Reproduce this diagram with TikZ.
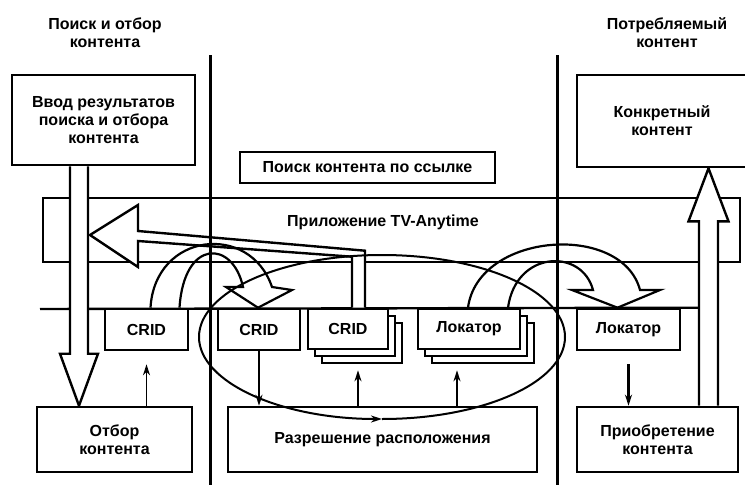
\documentclass[tikz,border=0pt]{standalone}
\usepackage{fontspec}
\setmainfont{Liberation Sans}
\usetikzlibrary{
	arrows.meta,
	backgrounds,
	calc,
	positioning,
	shadows,
}
\tikzset{block/.style={
		% The shape:
		rectangle,
		% The border:
		line width=2.6pt,draw=black,
		% white inside, so that lines behind are hidden
		fill=white,
		% make sure text is set the same in all boxes
		font=\bfseries\fontsize{16}{18}\selectfont,align=center,
		inner sep=0pt,
}}
\tikzset{stackblock/.style={
		block,
		% two copies behind the box
		double copy shadow={shadow xshift=7pt,shadow yshift=-7pt},
}}
\tikzset{caption/.style={
		font=\bfseries\fontsize{16}{18}\selectfont,align=center,
		inner sep=0pt,
}}
\tikzset{hollow/.style={
		% big open arrows
		line width=2.4pt,draw=black,fill=white,line join=miter,
}}
\tikzset{bent/.style={
		% curved open arrows, not filled
		line width=2.2pt,draw=black,line join=miter,
}}

\begin{document}
\begin{tikzpicture}[x=1pt,y=-1pt,>={Stealth[length=11pt,width=7pt]}]
	\useasboundingbox (0,0) rectangle (745,485);
	% column headings
	\node[caption] (search) at (105,33) {Поиск и отбор\\контента};
	\node[caption] (consumed) at (667,33) {Потребляемый\\контент};
	% boxes
	\node[block,minimum width=183pt,minimum height=90pt] (vvod) at (103.5,120) {Ввод результатов\\поиска и отбора\\контента};
	\node[block,minimum width=170pt,minimum height=92pt] (konkr) at (662,121) {Конкретный\\контент};
	\node[block,minimum width=255pt,minimum height=31pt] (poisk) at (367.5,167.5) {Поиск контента по ссылке};
	\node[block,minimum width=83pt,minimum height=41pt] (crid1) at (146.5,329.5) {CRID};
	\node[block,minimum width=82pt,minimum height=41pt] (crid2) at (259,329.5) {CRID};
	\node[stackblock,minimum width=80pt,minimum height=40pt] (crid3) at (348,329) {CRID};
	\node[stackblock,minimum width=102pt,minimum height=40pt] (lok1) at (469,329) {Локатор};
	\node[block,minimum width=103pt,minimum height=41pt] (lok2) at (628.5,329.5) {Локатор};
	\node[block,minimum width=155pt,minimum height=65pt] (otbor) at (114.5,439.5) {Отбор\\контента};
	\node[block,minimum width=309pt,minimum height=65pt] (razr) at (382.5,439.5) {Разрешение расположения};
	\node[block,minimum width=161pt,minimum height=65pt] (priobr) at (657.5,439.5) {Приобретение\\контента};
	% band, base line and the open arrows go behind the boxes
	\begin{scope}[on background layer]
		\node[draw,line width=2.4pt,minimum width=697pt,minimum height=64pt,inner sep=0pt] (app) at (391.5,230) {};
		\node[caption] (applabel) at (383,222) {Приложение TV-Anytime};
		\path (vvod.south) ++(-24.5,0) coordinate (seltop);
		\coordinate (seltip) at (seltop |- otbor.north);
		\path (priobr.north) ++(51,0) coordinate (gettail);
		\coordinate (gettip) at (gettail |- konkr.south);
		\path (crid3.north) ++(10,0) coordinate (reftail);
		\coordinate (reftip) at (90,235);
		\draw[line width=2.4pt] (40,309) -- ($(gettail |- crid1.north)+(-9.5,0)$);
		\draw[hollow] ($(seltop)+(-9,0)$) -- ($(seltip)+(-9,-52)$) -- ($(seltip)+(-19,-52)$) -- (seltip) -- ($(seltip)+(19,-52)$) -- ($(seltip)+(9,-52)$) -- ($(seltop)+(9,0)$);
		\draw[hollow] ($(gettail)+(-9.5,0)$) -- ($(gettip)+(-9.5,53)$) -- ($(gettip)+(-20,53)$) -- (gettip) -- ($(gettip)+(20,53)$) -- ($(gettip)+(9.5,53)$) -- ($(gettail)+(9.5,0)$);
		\draw[hollow] ($(reftail)+(-6,0)$) -- ($(reftail)+(-6,-51)$) -- ($(reftip)+(48,6)$) -- ($(reftip)+(48,32)$) -- (reftip) -- ($(reftip)+(48,-30)$) -- ($(reftip)+(48,-4)$) -- ($(reftail)+(7,-57)$) -- ($(reftail)+(7,0)$);
	\end{scope}
	% column dividers
	\draw[line width=3pt] (210,55) -- (210,485);
	\draw[line width=3pt] (557,55) -- (557,485);
	% curved open arrows
	\draw[bent] ($(crid1.north)+(4,0)$) .. controls (155,232) and (250,222) .. (272,287) -- (292,290) -- ($(crid2.north)+(-1,0)$) -- (226,287) -- (243,287) .. controls (233,240) and (184,238) .. ($(crid1.north)+(33,0)$);
	\draw[bent] ($(lok1.north)+(-1,0)$) .. controls (478,232) and (622,222) .. (640,290) -- (660,290) -- ($(lok2.north)+(-11,0)$) -- (572,290) -- (593,290) .. controls (582,248) and (516,250) .. ($(lok1.north)+(39,0)$);
	% resolution loop
	\draw[line width=2pt,->] (382,419) arc[start angle=90,end angle=-270,x radius=183,y radius=82];
	% small arrows
	\coordinate (c3foot) at ($(crid3.south)+(10,0)$);
	\coordinate (l1foot) at ($(lok1.south)+(-12,0)$);
	\draw[->,line width=1.6pt,shorten >=13pt] (otbor.north -| crid1.south) -- (crid1.south);
	\draw[->,line width=1.6pt] (crid2.south) -- (crid2.south |- razr.north);
	\draw[->,line width=1.6pt,shorten >=20pt] (c3foot |- razr.north) -- (c3foot);
	\draw[->,line width=1.6pt,shorten >=20pt] (l1foot |- razr.north) -- (l1foot);
	\draw[->,line width=2.8pt,shorten <=13pt] (lok2.south) -- (lok2.south |- priobr.north);
\end{tikzpicture}
\end{document}
